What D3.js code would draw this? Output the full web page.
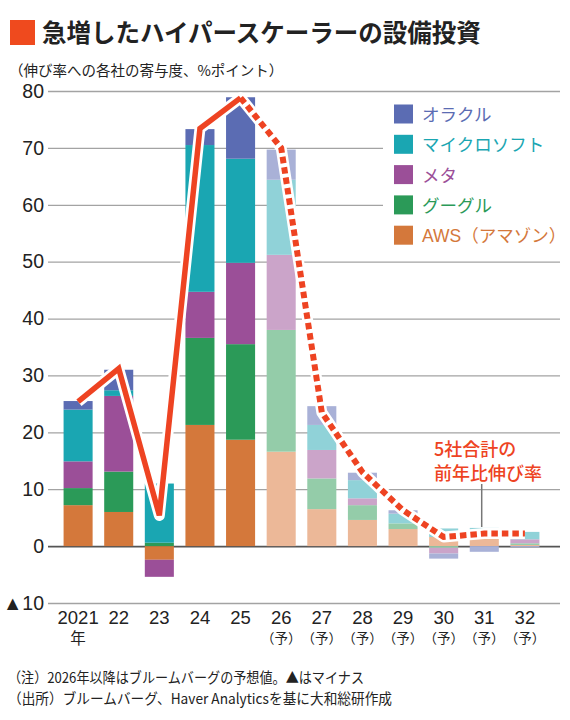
<!DOCTYPE html>
<html>
<head>
<meta charset="utf-8">
<script src="https://cdn.jsdelivr.net/npm/d3@7"></script>
<style>
  body { margin: 0; background: #fff; }
  svg { display: block; }
</style>
</head>
<body>
<div class="capex-chart"></div>
<script>
(function(){

  // --- data ---
  var years = ['2021','2022','2023','2024','2025','2026','2027','2028','2029','2030','2031','2032'];
  var xLabels = ['2021','22','23','24','25','26','27','28','29','30','31','32'];
  var xSubLabels = ['年','','','','','（予）','（予）','（予）','（予）','（予）','（予）','（予）'];
  var forecastStart = 5; // 2026 onward is forecast

  var seriesKeys = ['aws','google','meta','ms','oracle'];
  var seriesNames = ['AWS（アマゾン）','グーグル','メタ','マイクロソフト','オラクル'];

  var aws    = [7.2, 6.0, -2.4, 21.3, 18.7, 16.6, 6.5, 4.6, 3.0, 1.6, 1.4, 0.2];
  var google = [3.0, 7.1,  0.6, 15.3, 16.8, 21.4, 5.4, 2.6, 1.0, -0.3, 0.3, 0.3];
  var meta   = [4.7, 13.3, -3.0, 8.1, 14.3, 13.2, 5.0, 1.2, 0.0, -1.0, 0.0, 0.7];
  var ms     = [9.1, 1.0, 10.4, 25.8, 18.3, 13.2, 4.4, 3.2, 1.7, 1.5, 1.5, 1.3];
  var oracle = [1.5, 3.6,  0.0, 2.8, 10.8, 5.3, 3.3, 1.3, 0.6, -0.9, -1.0, -0.2];

  var totalGrowth = [25.4, 31.2, 5.4, 73.4, 78.8, 70.0, 23.5, 13.0, 6.3, 1.6, 2.2, 2.2];

  var yTicks = [-10, 0, 10, 20, 30, 40, 50, 60, 70, 80];

  // --- styles ---
  var darkColors  = ['#d4783b', '#2b9a58', '#9b4f98', '#1aa6b2', '#5b6cb3'];
  var lightColors = ['#ecb898', '#94cca9', '#cba4c9', '#90d2d8', '#a9b1d7'];
  var lineColor = '#ee4322';
  var jpFont = '"Noto Sans CJK JP", "Noto Sans", sans-serif';
  var numFont = '"Liberation Sans", "Noto Sans CJK JP", sans-serif';

  var width = 570;
  var height = 720;

  var table = years.map(function(y, i) {
    return { year: y, aws: aws[i], google: google[i], meta: meta[i], ms: ms[i], oracle: oracle[i] };
  });

  var stacked = d3.stack()
    .keys(seriesKeys)
    .offset(d3.stackOffsetDiverging)(table);

  var x = d3.scaleBand()
    .domain(years)
    .range([52, 551])
    .paddingInner(0.285)
    .paddingOuter(0.285);

  var y = d3.scaleLinear()
    .domain([-10, 80])
    .range([603, 91]);

  var svg = d3.select('.capex-chart')
    .append('svg')
    .attr('width', width)
    .attr('height', height);

  // title
  svg.append('rect')
    .attr('x', 10).attr('y', 20)
    .attr('width', 25).attr('height', 25)
    .attr('fill', '#ef4a1e');

  svg.append('text')
    .attr('x', 42).attr('y', 42)
    .attr('font-family', jpFont)
    .attr('font-weight', 700)
    .attr('font-size', 24.5)
    .attr('fill', '#222')
    .text('急増したハイパースケーラーの設備投資');

  svg.append('text')
    .attr('x', 9).attr('y', 76)
    .attr('font-family', jpFont)
    .attr('font-size', 14.5)
    .attr('fill', '#222')
    .text('（伸び率への各社の寄与度、%ポイント）');

  // y axis with gridlines
  var yAxis = d3.axisLeft(y)
    .tickValues(yTicks)
    .tickSize(-(560 - 48))
    .tickPadding(4)
    .tickFormat(function(d) { return d < 0 ? '▲' + (-d) : d; });

  var gy = svg.append('g')
    .attr('transform', 'translate(48,0)')
    .call(yAxis);

  gy.select('.domain').remove();
  gy.selectAll('.tick line')
    .attr('stroke', function(d) { return d === 0 ? '#555' : '#a3a3a3'; })
    .attr('stroke-width', function(d) { return d === 0 ? 1.8 : 1.3; });
  gy.selectAll('.tick text')
    .attr('font-family', numFont)
    .attr('font-size', 19.5)
    .attr('fill', '#222');

  // x axis labels
  var xAxis = d3.axisBottom(x)
    .tickSize(0)
    .tickPadding(0)
    .tickFormat(function(d, i) { return xLabels[i]; });

  var gx = svg.append('g')
    .attr('transform', 'translate(0,608)')
    .call(xAxis);

  gx.select('.domain').remove();
  gx.selectAll('.tick text')
    .attr('font-family', numFont)
    .attr('font-size', 18.5)
    .attr('fill', '#222')
    .attr('dy', 16);

  gx.selectAll('.tick')
    .append('text')
    .attr('y', function(d, i) { return i === 0 ? 36 : 35; })
    .attr('text-anchor', 'middle')
    .attr('font-family', jpFont)
    .attr('font-size', function(d, i) { return i === 0 ? 15.5 : 13.5; })
    .attr('fill', '#222')
    .text(function(d, i) { return xSubLabels[i]; });

  // white box behind the legend
  svg.append('rect')
    .attr('x', 383).attr('y', 98)
    .attr('width', 180).attr('height', 152)
    .attr('fill', '#fff');

  // bars
  var layers = svg.append('g')
    .selectAll('g')
    .data(stacked)
    .enter()
    .append('g');

  layers.selectAll('rect')
    .data(function(layer) {
      return layer.map(function(d, i) { return { seg: d, i: i, k: layer.index }; });
    })
    .enter()
    .append('rect')
    .attr('x', function(d) { return x(d.seg.data.year); })
    .attr('y', function(d) { return y(Math.max(d.seg[0], d.seg[1])); })
    .attr('width', x.bandwidth())
    .attr('height', function(d) { return Math.abs(y(d.seg[0]) - y(d.seg[1])); })
    .attr('fill', function(d) { return d.i >= forecastStart ? lightColors[d.k] : darkColors[d.k]; });

  // total growth line
  var line = d3.line()
    .x(function(d) { return x(d.year) + x.bandwidth() / 2; })
    .y(function(d) { return y(d.v); });

  var points = years.map(function(yr, i) { return { year: yr, v: totalGrowth[i] }; });
  var actual = points.slice(0, forecastStart);
  var forecast = points.slice(forecastStart - 1);

  svg.append('path')
    .attr('d', line(points))
    .attr('fill', 'none')
    .attr('stroke', '#fff')
    .attr('stroke-width', 11)
    .attr('stroke-linejoin', 'round');

  svg.append('path')
    .attr('d', line(actual))
    .attr('fill', 'none')
    .attr('stroke', lineColor)
    .attr('stroke-width', 5.5)
    .attr('stroke-linejoin', 'miter');

  svg.append('path')
    .attr('d', line(forecast))
    .attr('fill', 'none')
    .attr('stroke', lineColor)
    .attr('stroke-width', 6)
    .attr('stroke-dasharray', '6.5,4');

  // legend
  var legend = svg.append('g')
    .selectAll('g')
    .data(seriesNames.map(function(n, i) { return { name: n, k: i }; }).reverse())
    .enter()
    .append('g')
    .attr('transform', function(d, i) { return 'translate(394,' + (104.5 + i * 30.3) + ')'; });

  legend.append('rect')
    .attr('width', 19).attr('height', 19)
    .attr('fill', function(d) { return darkColors[d.k]; });

  legend.append('text')
    .attr('x', 28).attr('y', 16.5)
    .attr('font-family', numFont)
    .attr('font-size', 17.5)
    .attr('fill', function(d) { return darkColors[d.k]; })
    .text(function(d) { return d.name; });

  // annotation for the line
  svg.append('line')
    .attr('x1', 481.7).attr('x2', 481.7)
    .attr('y1', 484).attr('y2', 527)
    .attr('stroke', '#777')
    .attr('stroke-width', 1.5);

  svg.append('text')
    .attr('x', 434).attr('y', 456)
    .attr('font-family', jpFont)
    .attr('font-weight', 500)
    .attr('font-size', 18)
    .attr('fill', lineColor)
    .text('5社合計の');

  svg.append('text')
    .attr('x', 434).attr('y', 480)
    .attr('font-family', jpFont)
    .attr('font-weight', 500)
    .attr('font-size', 18)
    .attr('fill', lineColor)
    .text('前年比伸び率');

  // notes
  svg.append('text')
    .attr('x', 8).attr('y', 683)
    .attr('font-family', jpFont)
    .attr('font-size', 14.5)
    .attr('fill', '#222')
    .attr('textLength', 356)
    .attr('lengthAdjust', 'spacingAndGlyphs')
    .text('（注）2026年以降はブルームバーグの予想値。▲はマイナス');

  svg.append('text')
    .attr('x', 8).attr('y', 704)
    .attr('font-family', jpFont)
    .attr('font-size', 14.5)
    .attr('fill', '#222')
    .attr('textLength', 384)
    .attr('lengthAdjust', 'spacingAndGlyphs')
    .text('（出所）ブルームバーグ、Haver Analyticsを基に大和総研作成');

})();
</script>
</body>
</html>
